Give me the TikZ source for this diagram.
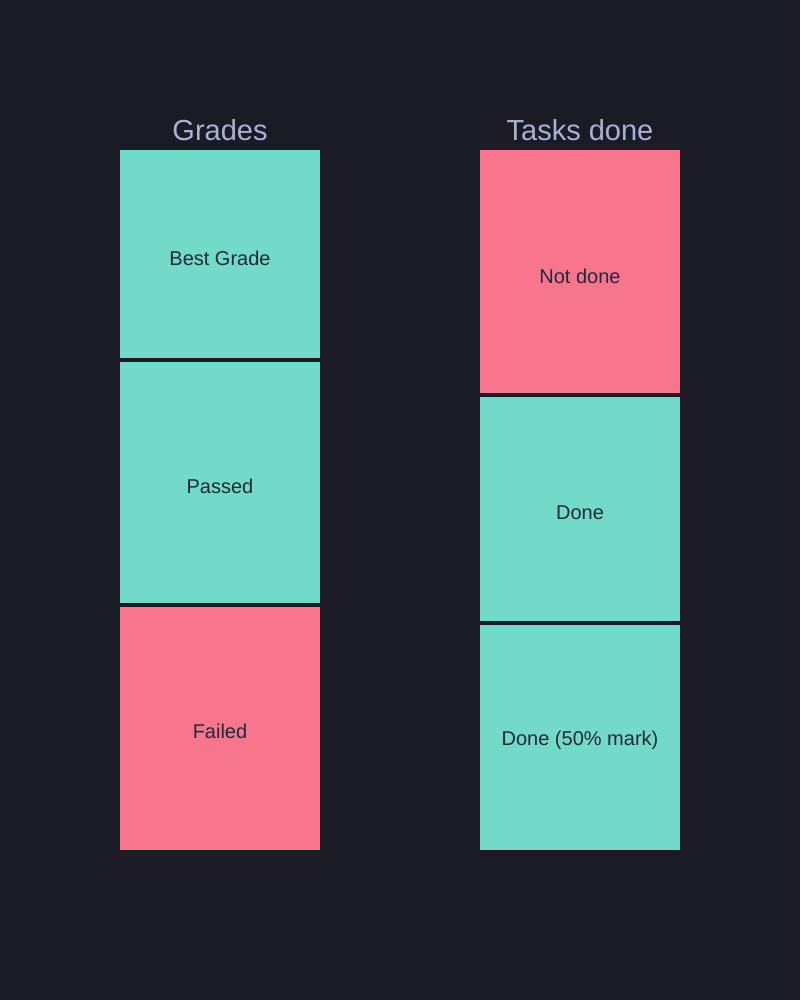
\documentclass[tikz,border=0pt]{standalone}
\usepackage{fontspec}
\setmainfont{Liberation Sans}
\definecolor{bgdark}{HTML}{1B1B26}
\definecolor{teal}{HTML}{73DACA}
\definecolor{rose}{HTML}{F7768E}
\definecolor{titlefg}{HTML}{A9B1D6}
\definecolor{labelfg}{HTML}{24283B}
\begin{document}
\begin{tikzpicture}[x=1pt,y=-1pt,
  colhead/.style={text=titlefg, font=\fontsize{29}{31}\selectfont, inner sep=0pt},
  cell/.style={minimum width=200pt, inner sep=0pt, outer sep=0pt},
  good/.style={cell, fill=teal},
  bad/.style={cell, fill=rose},
  lbl/.style={text=labelfg, font=\fontsize{20}{23}\selectfont, inner sep=0pt}]
  \fill[bgdark] (0,0) rectangle (800,1000);
  \useasboundingbox (0,0) rectangle (800,1000);

  % Grades column
  \node[colhead] (gradesTitle) at (220,130) {Grades};
  \node[good, minimum height=208pt] (best) at (220,254) {};
  \node[good, minimum height=241pt] (passed) at (220,482.5) {};
  \node[bad, minimum height=243pt] (failed) at (220,728.5) {};
  \node[lbl] (bestLbl) at (220,258.5) {Best Grade};
  \node[lbl] (passedLbl) at (220,486.5) {Passed};
  \node[lbl] (failedLbl) at (220,731.5) {Failed};

  % Tasks column
  \node[colhead] (tasksTitle) at (580,130) {Tasks done};
  \node[bad, minimum height=243pt] (notdone) at (580,271.5) {};
  \node[good, minimum height=224pt] (done) at (580,509) {};
  \node[good, minimum height=225pt] (halfdone) at (580,737.5) {};
  \node[lbl] (notdoneLbl) at (580,276.5) {Not done};
  \node[lbl] (doneLbl) at (580,512.5) {Done};
  \node[lbl] (halfdoneLbl) at (580,740.5) {Done (50\% mark)};
\end{tikzpicture}
\end{document}
